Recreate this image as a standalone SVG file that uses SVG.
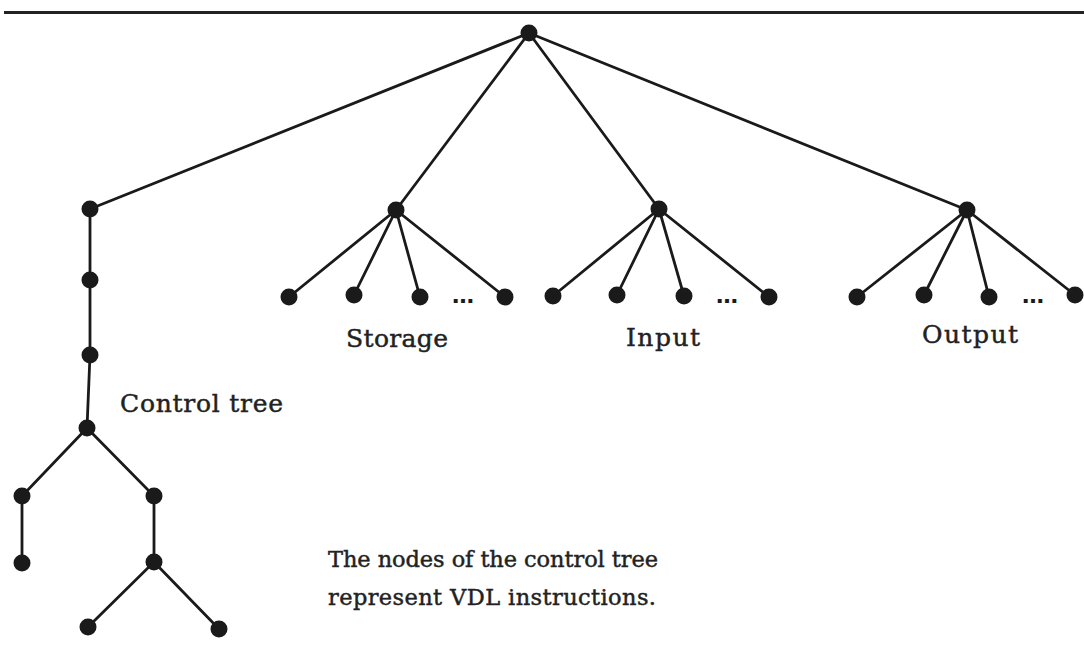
<svg xmlns="http://www.w3.org/2000/svg" width="1084" height="652" viewBox="0 0 1084 652">
<style>
.e{stroke:#1a1a1a;stroke-width:2.8;fill:none;stroke-linecap:round}
.n{fill:#1a1a1a}
.t{font-family:"DejaVu Serif","Liberation Serif",serif;font-size:25px;fill:#222;stroke:#222;stroke-width:0.45}
.m{font-size:22.5px}
.d{font-family:"DejaVu Sans","Liberation Sans",sans-serif;font-size:22px;font-weight:bold;fill:#1a1a1a}
</style>
<rect width="1084" height="652" fill="#fff"/>
<line x1="4" y1="12.5" x2="1084" y2="12.5" stroke="#222" stroke-width="3"/>
<g id="connectors">
<path class="e" d="M529 33L90 209M529 33L396 210M529 33L659 209M529 33L967 210"/>
<path class="e" d="M396 210L289 297M396 210L354 295M396 210L420 297M396 210L505 297"/>
<path class="e" d="M659 209L553 296M659 209L617 295M659 209L684 296M659 209L769 297"/>
<path class="e" d="M967 210L857 297M967 210L924 295M967 210L989 297M967 210L1075 295"/>
<path class="e" d="M90 209L90 280L90 355L87 428M87 428L22 496L22 563M87 428L154 496L154 562L88 627M154 562L219 629"/>
</g>
<g id="root"><circle class="n" cx="529" cy="33" r="8.5"/></g>
<g id="control"><circle class="n" cx="90" cy="209" r="8.5"/><circle class="n" cx="90" cy="280" r="8.5"/><circle class="n" cx="90" cy="355" r="8.5"/><circle class="n" cx="87" cy="428" r="8.5"/><circle class="n" cx="22" cy="496" r="8.5"/><circle class="n" cx="154" cy="496" r="8.5"/><circle class="n" cx="22" cy="563" r="8.5"/><circle class="n" cx="154" cy="562" r="8.5"/><circle class="n" cx="88" cy="627" r="8.5"/><circle class="n" cx="219" cy="629" r="8.5"/>
<text class="t" x="120" y="412" textLength="163" lengthAdjust="spacing">Control tree</text></g>
<g id="storage"><circle class="n" cx="396" cy="210" r="8.5"/><circle class="n" cx="289" cy="297" r="8.5"/><circle class="n" cx="354" cy="295" r="8.5"/><circle class="n" cx="420" cy="297" r="8.5"/><circle class="n" cx="505" cy="297" r="8.5"/>
<text class="d" x="463" y="303" text-anchor="middle">…</text>
<text class="t" x="346" y="347" textLength="102" lengthAdjust="spacing">Storage</text></g>
<g id="input"><circle class="n" cx="659" cy="209" r="8.5"/><circle class="n" cx="553" cy="296" r="8.5"/><circle class="n" cx="617" cy="295" r="8.5"/><circle class="n" cx="684" cy="296" r="8.5"/><circle class="n" cx="769" cy="297" r="8.5"/>
<text class="d" x="727" y="303" text-anchor="middle">…</text>
<text class="t" x="626" y="346" textLength="74" lengthAdjust="spacing">Input</text></g>
<g id="output"><circle class="n" cx="967" cy="210" r="8.5"/><circle class="n" cx="857" cy="297" r="8.5"/><circle class="n" cx="924" cy="295" r="8.5"/><circle class="n" cx="989" cy="297" r="8.5"/><circle class="n" cx="1075" cy="295" r="8.5"/>
<text class="d" x="1033" y="303" text-anchor="middle">…</text>
<text class="t" x="922" y="343" textLength="96" lengthAdjust="spacing">Output</text></g>
<g id="note"><text class="t m" x="328" y="567" textLength="330" lengthAdjust="spacing">The nodes of the control tree</text><text class="t m" x="328" y="605" textLength="328" lengthAdjust="spacing">represent VDL instructions.</text></g>
</svg>
